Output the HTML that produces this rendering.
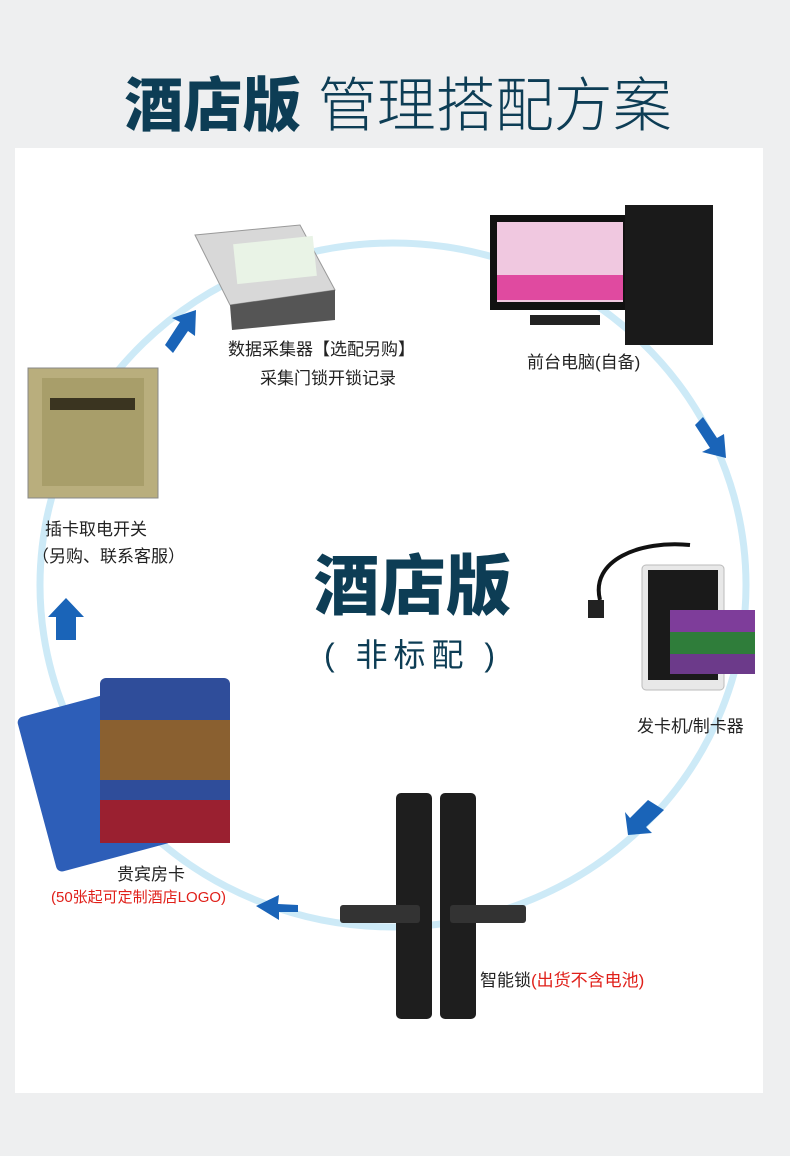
<!DOCTYPE html>
<html><head><meta charset="utf-8"><style>
body{margin:0;width:790px;height:1156px;background:#eeeff0;position:relative;overflow:hidden;font-family:"Liberation Sans","Noto Sans CJK SC",sans-serif}
.a{position:absolute}
.t{position:absolute;font-size:17px;color:#222;white-space:nowrap}
.r{color:#e0201a}
</style></head><body>
<div class="a" style="left:0;top:70px;width:796px;text-align:center;font-size:59px;color:#0d3d55;line-height:72px;white-space:nowrap"><b style="font-weight:900">酒店版</b> <span style="font-weight:300">管理搭配方案</span></div>
<div class="a" style="left:15px;top:148px;width:748px;height:945px;background:#fff"></div>
<svg class="a" style="left:0;top:0" width="790" height="1156">
<ellipse cx="393" cy="585" rx="353" ry="342" fill="none" stroke="#cdeaf7" stroke-width="7"/>
<g fill="#1a64b8">
<polygon points="165,345 180,322 172,318 196,310 195,336 188,331 173,353"/>
<polygon points="56,640 56,617 48,617 66,598 84,617 76,617 76,640"/>
<polygon points="695,425 710,448 702,452 726,458 724,434 717,438 703,417"/>
<polygon points="648,800 630,818 625,812 628,835 652,833 646,827 664,810"/>
<polygon points="298,905 278,904 279,895 256,906 279,920 279,912 298,912"/>
</g>
<polygon points="195,235 300,225 335,290 230,305" fill="#d8d8d8" stroke="#999"/>
<polygon points="230,305 335,290 335,320 232,330" fill="#555"/>
<rect x="235" y="240" width="80" height="40" fill="#e9f3e6" transform="rotate(-6 275 260)"/>
<rect x="490" y="215" width="140" height="95" fill="#111"/>
<rect x="497" y="222" width="126" height="80" fill="#f0c8e0"/>
<rect x="497" y="275" width="126" height="25" fill="#e04aa0"/>
<rect x="530" y="315" width="70" height="10" fill="#222"/>
<rect x="625" y="205" width="88" height="140" fill="#1a1a1a"/>
<rect x="28" y="368" width="130" height="130" fill="#b9ae7d" stroke="#888"/>
<rect x="42" y="378" width="102" height="108" fill="#a89e6a"/>
<rect x="50" y="398" width="85" height="12" fill="#3a3420"/>
<path d="M600 600 C590 560 640 540 690 545" stroke="#111" stroke-width="4" fill="none"/>
<rect x="588" y="600" width="16" height="18" fill="#222"/>
<rect x="642" y="565" width="82" height="125" rx="4" fill="#e8e8e8" stroke="#bbb"/>
<rect x="648" y="570" width="70" height="110" fill="#1a1a1a"/>
<rect x="670" y="610" width="85" height="22" fill="#7e3d9a"/>
<rect x="670" y="632" width="85" height="22" fill="#2f7d3a"/>
<rect x="670" y="654" width="85" height="20" fill="#6c3a8a"/>
<rect x="35" y="700" width="120" height="160" rx="6" fill="#2d5eb8" transform="rotate(-15 95 780)"/>
<rect x="100" y="678" width="130" height="165" rx="6" fill="#2f4d9a"/>
<rect x="100" y="720" width="130" height="60" fill="#8a6030"/>
<rect x="100" y="800" width="130" height="43" fill="#9a2030"/>
<rect x="396" y="793" width="36" height="226" rx="5" fill="#1e1e1e"/>
<rect x="440" y="793" width="36" height="226" rx="5" fill="#1e1e1e"/>
<rect x="340" y="905" width="80" height="18" rx="3" fill="#333"/>
<rect x="450" y="905" width="76" height="18" rx="3" fill="#333"/>
</svg>
<div class="t" style="left:228px;top:335px">数据采集器【选配另购】</div>
<div class="t" style="left:260px;top:364px">采集门锁开锁记录</div>
<div class="t" style="left:527px;top:348px">前台电脑(自备)</div>
<div class="t" style="left:45px;top:515px">插卡取电开关</div>
<div class="t" style="left:32px;top:542px">（另购、联系客服）</div>
<div class="t" style="left:637px;top:712px">发卡机/制卡器</div>
<div class="t" style="left:117px;top:860px">贵宾房卡</div>
<div class="t r" style="left:51px;top:886px;font-size:15px">(50张起可定制酒店LOGO)</div>
<div class="t" style="left:480px;top:966px">智能锁<span class="r">(出货不含电池)</span></div>
<div class="a" style="left:290px;top:548px;width:245px;text-align:center;font-size:66px;font-weight:900;color:#0d3d55;line-height:76px">酒店版</div>
<div class="a" style="left:300px;top:630px;width:225px;text-align:center;font-size:32px;color:#0d3d55;letter-spacing:6px">( 非标配 )</div>
</body></html>
